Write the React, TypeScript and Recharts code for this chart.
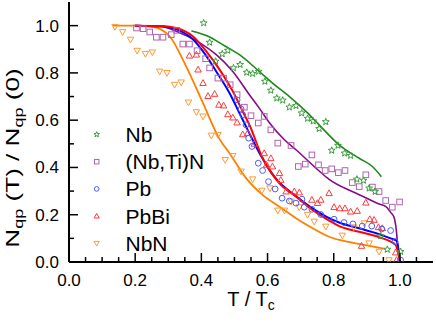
import React from 'react';
import {
  ComposedChart,
  Scatter,
  Line,
  XAxis,
  YAxis,
  Legend,
} from 'recharts';

const FONT = '"Liberation Sans", Arial, Helvetica, sans-serif';

// measured points (T/Tc, Nqp(T)/Nqp(0))
const nbX = [0.407, 0.425, 0.443, 0.463, 0.48, 0.497, 0.517, 0.537, 0.555, 0.573, 0.592, 0.61, 0.628, 0.646, 0.666, 0.686, 0.703, 0.721, 0.738, 0.756, 0.776, 0.794, 0.813, 0.833, 0.851, 0.87, 0.89, 0.907, 0.925, 0.942, 0.962, 1.002];
const nbY = [1.011, 0.929, 0.849, 0.88, 0.895, 0.821, 0.835, 0.802, 0.797, 0.806, 0.764, 0.726, 0.693, 0.684, 0.655, 0.661, 0.63, 0.607, 0.596, 0.564, 0.593, 0.472, 0.493, 0.46, 0.45, 0.35, 0.345, 0.312, 0.298, 0.11, 0.053, 0.044];

const nbtinX = [0.204, 0.224, 0.244, 0.264, 0.284, 0.309, 0.326, 0.344, 0.364, 0.387, 0.413, 0.425, 0.45, 0.467, 0.487, 0.508, 0.53, 0.55, 0.572, 0.59, 0.61, 0.631, 0.671, 0.693, 0.714, 0.734, 0.754, 0.774, 0.794, 0.814, 0.834, 0.856, 0.877, 0.897, 0.917, 0.937, 0.957, 0.977, 0.999];
const nbtinY = [0.99, 0.987, 0.973, 0.951, 0.951, 0.962, 0.98, 0.922, 0.922, 0.894, 0.86, 0.821, 0.778, 0.778, 0.75, 0.708, 0.655, 0.619, 0.588, 0.616, 0.559, 0.503, 0.493, 0.404, 0.414, 0.453, 0.411, 0.387, 0.394, 0.378, 0.387, 0.336, 0.319, 0.369, 0.317, 0.298, 0.26, 0.232, 0.254];

const pbX = [0.508, 0.52, 0.525, 0.535, 0.543, 0.553, 0.572, 0.585, 0.603, 0.623, 0.644, 0.666, 0.686, 0.704, 0.711, 0.734, 0.761, 0.801, 0.831, 0.858, 0.886, 0.915, 0.945, 0.972, 0.985, 1.002];
const pbY = [0.686, 0.647, 0.623, 0.58, 0.524, 0.489, 0.418, 0.387, 0.34, 0.309, 0.27, 0.258, 0.249, 0.266, 0.232, 0.223, 0.201, 0.181, 0.167, 0.161, 0.152, 0.152, 0.14, 0.133, 0.086, 0.008];

const pbbiX = [0.364, 0.385, 0.39, 0.405, 0.42, 0.44, 0.453, 0.467, 0.48, 0.495, 0.508, 0.525, 0.54, 0.56, 0.59, 0.597, 0.61, 0.615, 0.636, 0.64, 0.656, 0.681, 0.696, 0.734, 0.751, 0.761, 0.786, 0.801, 0.818, 0.834, 0.851, 0.871, 0.884, 0.897, 0.909, 0.922, 0.935, 0.947, 0.987, 0.99];
const pbbiY = [0.873, 0.877, 0.814, 0.757, 0.702, 0.711, 0.665, 0.662, 0.625, 0.611, 0.59, 0.54, 0.545, 0.5, 0.46, 0.411, 0.439, 0.404, 0.376, 0.347, 0.298, 0.298, 0.294, 0.263, 0.249, 0.263, 0.291, 0.232, 0.227, 0.227, 0.213, 0.216, 0.068, 0.251, 0.181, 0.178, 0.147, 0.143, 0.04, 0.008];

const nbnX = [0.139, 0.162, 0.186, 0.206, 0.231, 0.252, 0.274, 0.296, 0.319, 0.339, 0.361, 0.385, 0.405, 0.43, 0.45, 0.472, 0.495, 0.52, 0.555, 0.583, 0.607, 0.631, 0.651, 0.671, 0.696, 0.721, 0.741, 0.776, 0.826, 0.861, 0.892, 0.907, 0.937, 0.967];
const nbnY = [0.995, 0.973, 0.941, 0.894, 0.881, 0.887, 0.806, 0.8, 0.75, 0.76, 0.675, 0.634, 0.616, 0.535, 0.538, 0.432, 0.449, 0.383, 0.35, 0.302, 0.312, 0.218, 0.218, 0.256, 0.232, 0.2, 0.171, 0.15, 0.112, 0.147, 0.164, 0.079, 0.044, 0.008];

// model curves
const nbFitX = [0.37, 0.42, 0.47, 0.515, 0.575, 0.615, 0.666, 0.72, 0.756, 0.816, 0.877, 0.917, 0.944];
const nbFitY = [0.977, 0.955, 0.915, 0.877, 0.806, 0.757, 0.7, 0.632, 0.58, 0.496, 0.439, 0.404, 0.361];

const nbtinFitX = [0.2, 0.28, 0.324, 0.395, 0.445, 0.495, 0.545, 0.575, 0.605, 0.651, 0.686, 0.756, 0.786, 0.856, 0.9, 0.937, 0.957, 0.972, 0.982, 0.989, 0.995, 0.999];
const nbtinFitY = [1.0, 0.995, 0.976, 0.927, 0.877, 0.806, 0.708, 0.651, 0.59, 0.517, 0.475, 0.385, 0.35, 0.298, 0.27, 0.245, 0.235, 0.21, 0.19, 0.136, 0.045, 0.0];

const pbFitX = [0.2, 0.28, 0.364, 0.405, 0.445, 0.485, 0.515, 0.54, 0.58, 0.63, 0.68, 0.73, 0.78, 0.82, 0.877, 0.937, 0.972, 0.99, 0.996, 1.0];
const pbFitY = [1.0, 0.997, 0.955, 0.891, 0.806, 0.715, 0.63, 0.559, 0.45, 0.345, 0.285, 0.232, 0.19, 0.165, 0.143, 0.118, 0.1, 0.09, 0.05, 0.0];

const pbbiFitX = [0.2, 0.28, 0.324, 0.374, 0.415, 0.455, 0.495, 0.525, 0.545, 0.585, 0.636, 0.686, 0.736, 0.786, 0.816, 0.877, 0.937, 0.972, 0.987, 0.995, 1.0];
const pbbiFitY = [1.0, 0.998, 0.99, 0.955, 0.891, 0.814, 0.722, 0.637, 0.581, 0.44, 0.333, 0.277, 0.22, 0.175, 0.152, 0.128, 0.105, 0.086, 0.072, 0.037, 0.0];

const nbnFitX = [0.133, 0.2, 0.253, 0.304, 0.354, 0.405, 0.455, 0.485, 0.535, 0.585, 0.636, 0.686, 0.736, 0.786, 0.856, 0.9, 0.955];
const nbnFitY = [1.0, 1.0, 0.995, 0.955, 0.828, 0.672, 0.52, 0.46, 0.355, 0.284, 0.234, 0.185, 0.143, 0.107, 0.082, 0.07, 0.056];

const xTicks = [0, 0.05, 0.1, 0.15, 0.2, 0.25, 0.3, 0.35, 0.4, 0.45, 0.5, 0.55, 0.6, 0.65, 0.7, 0.75, 0.8, 0.85, 0.9, 0.95, 1.0, 1.05];
const yTicks = [0, 0.1, 0.2, 0.3, 0.4, 0.5, 0.6, 0.7, 0.8, 0.9, 1.0];
const legendNames = ['Nb', '(Nb,Ti)N', 'Pb', 'PbBi', 'NbN'];

const zip = (xs: number[], ys: number[]) => xs.map((x, i) => ({ x, y: ys[i] }));

const COLORS = {
  nb: { line: '#1b8a1b', mark: '#3a9e3a' },
  nbtin: { line: '#870a87', mark: '#b064b0' },
  pb: { line: '#0000ff', mark: '#4a5cff' },
  pbbi: { line: '#ff0000', mark: '#ff3b3b' },
  nbn: { line: '#ff7f00', mark: '#ff9a33' },
};

const isMajor = (v: number) => Math.abs(v * 5 - Math.round(v * 5)) < 1e-6;

// marker shapes
const starPath = (cx: number, cy: number, R: number) => {
  let d = '';
  for (let i = 0; i < 10; i++) {
    const a = -Math.PI / 2 + (i * Math.PI) / 5;
    const r = i % 2 ? R * 0.42 : R;
    d += `${i ? 'L' : 'M'}${cx + r * Math.cos(a)},${cy + r * Math.sin(a)}`;
  }
  return d + 'Z';
};

const marker = (kind: string, cx: number, cy: number, s = 1) => {
  switch (kind) {
    case 'star':
      return <path d={starPath(cx, cy, 3.6 * s)} fill="none" stroke={COLORS.nb.mark} strokeWidth={1} />;
    case 'square':
      return <rect x={cx - 2.8 * s} y={cy - 2.8 * s} width={5.6 * s} height={5.6 * s} fill="none" stroke={COLORS.nbtin.mark} strokeWidth={1} />;
    case 'circle':
      return <circle cx={cx} cy={cy} r={2.9 * s} fill="none" stroke={COLORS.pb.mark} strokeWidth={1} />;
    case 'up':
      return <path d={`M${cx},${cy - 3.4 * s}L${cx + 3.2 * s},${cy + 2.4 * s}L${cx - 3.2 * s},${cy + 2.4 * s}Z`} fill="none" stroke={COLORS.pbbi.mark} strokeWidth={1} />;
    default:
      return <path d={`M${cx},${cy + 3.4 * s}L${cx + 3.2 * s},${cy - 2.4 * s}L${cx - 3.2 * s},${cy - 2.4 * s}Z`} fill="none" stroke={COLORS.nbn.mark} strokeWidth={1} />;
  }
};

const shapeOf = (kind: string) => (p: any) => marker(kind, p.cx, p.cy);
const legendKinds = ['star', 'square', 'circle', 'up', 'down'];

// inward ticks
const BottomTick = ({ x, y, payload }: any) => {
  const major = isMajor(payload.value);
  return (
    <g>
      <line x1={x} x2={x} y1={y} y2={y - (major ? 9 : 5)} stroke="#000" strokeWidth={1.5} />
      {major && (
        <text x={x} y={y + 24} textAnchor="middle" fontSize={17} fontFamily={FONT} fill="#000">
          {payload.value.toFixed(1)}
        </text>
      )}
    </g>
  );
};

const TopTick = ({ x, y, payload }: any) => (
  <line x1={x} x2={x} y1={y} y2={y + (isMajor(payload.value) ? 9 : 5)} stroke="#000" strokeWidth={1.5} />
);

const LeftTick = ({ x, y, payload }: any) => {
  const major = isMajor(payload.value);
  return (
    <g>
      <line x1={x} x2={x + (major ? 9 : 5)} y1={y} y2={y} stroke="#000" strokeWidth={1.5} />
      {major && (
        <text x={x - 10} y={y} dy="0.355em" textAnchor="end" fontSize={17} fontFamily={FONT} fill="#000">
          {payload.value.toFixed(1)}
        </text>
      )}
    </g>
  );
};

const RightTick = ({ x, y, payload }: any) => (
  <line x1={x} x2={x - (isMajor(payload.value) ? 9 : 5)} y1={y} y2={y} stroke="#000" strokeWidth={1.5} />
);

const XTitle = () => (
  <text x={251} y={306} textAnchor="middle" fontSize={20} fontFamily={FONT} fill="#000">
    T / T<tspan dy={4} fontSize={14}>c</tspan>
  </text>
);

const YTitle = () => (
  <text
    transform="translate(19,158) rotate(-90) scale(1.45,1)"
    textAnchor="middle"
    fontSize={18}
    fontFamily={FONT}
    fill="#000"
  >
    N<tspan dy={4} fontSize={12.5}>qp</tspan>
    <tspan dy={-4}> (T) / N</tspan>
    <tspan dy={4} fontSize={12.5}>qp</tspan>
    <tspan dy={-4}> (0)</tspan>
  </text>
);

const LegendBox = () => (
  <svg width={140} height={140} style={{ display: 'block' }}>
    {legendNames.map((name, i) => {
      const cy = 13.5 + i * 27.2;
      return (
        <g key={name}>
          {marker(legendKinds[i], 8.7, cy, 0.8)}
          <text x={37.5} y={cy + 7.5} fontSize={21} fontFamily={FONT} fill="#000">
            {name}
          </text>
        </g>
      );
    })}
  </svg>
);

const axisLine = { stroke: '#000', strokeWidth: 2 };

export default function App() {
  return (
    <div style={{ position: 'absolute', left: 0, top: 0, width: 436, height: 331, background: '#fff' }}>
      <ComposedChart width={436} height={331} margin={{ top: 2, right: 3, bottom: 0, left: 0 }}>
        <XAxis
          xAxisId={0}
          type="number"
          dataKey="x"
          domain={[0, 1.1]}
          allowDataOverflow
          ticks={xTicks}
          interval={0}
          tickSize={0}
          tickMargin={0}
          tickLine={false}
          axisLine={axisLine}
          tick={<BottomTick />}
          height={69}
          label={<XTitle />}
        />
        <XAxis
          xAxisId="top"
          orientation="top"
          type="number"
          dataKey="x"
          domain={[0, 1.1]}
          allowDataOverflow
          ticks={xTicks}
          interval={0}
          tickSize={0}
          tickMargin={0}
          tickLine={false}
          axisLine={axisLine}
          tick={<TopTick />}
          height={0}
        />
        <YAxis
          yAxisId={0}
          type="number"
          dataKey="y"
          domain={[0, 1.1]}
          allowDataOverflow
          ticks={yTicks}
          interval={0}
          tickSize={0}
          tickMargin={0}
          tickLine={false}
          axisLine={axisLine}
          tick={<LeftTick />}
          width={69}
          label={<YTitle />}
        />
        <YAxis
          yAxisId="right"
          orientation="right"
          type="number"
          dataKey="y"
          domain={[0, 1.1]}
          allowDataOverflow
          ticks={yTicks}
          interval={0}
          tickSize={0}
          tickMargin={0}
          tickLine={false}
          axisLine={axisLine}
          tick={<RightTick />}
          width={0}
        />
        <Legend
          layout="vertical"
          align="center"
          verticalAlign="middle"
          wrapperStyle={{ left: 88, top: 121, width: 140, height: 140 }}
          content={() => <LegendBox />}
        />

        <Scatter name="NbN" data={zip(nbnX, nbnY)} shape={shapeOf('down')} isAnimationActive={false} />
        <Scatter name="PbBi" data={zip(pbbiX, pbbiY)} shape={shapeOf('up')} isAnimationActive={false} />
        <Scatter name="Pb" data={zip(pbX, pbY)} shape={shapeOf('circle')} isAnimationActive={false} />
        <Scatter name="(Nb,Ti)N" data={zip(nbtinX, nbtinY)} shape={shapeOf('square')} isAnimationActive={false} />
        <Scatter name="Nb" data={zip(nbX, nbY)} shape={shapeOf('star')} isAnimationActive={false} />

        <Line data={zip(nbnFitX, nbnFitY)} dataKey="y" type="monotone" dot={false} activeDot={false} stroke={COLORS.nbn.line} strokeWidth={1.8} isAnimationActive={false} legendType="none" />
        <Line data={zip(nbFitX, nbFitY)} dataKey="y" type="monotone" dot={false} activeDot={false} stroke={COLORS.nb.line} strokeWidth={1.6} isAnimationActive={false} legendType="none" />
        <Line data={zip(nbtinFitX, nbtinFitY)} dataKey="y" type="monotone" dot={false} activeDot={false} stroke={COLORS.nbtin.line} strokeWidth={1.6} isAnimationActive={false} legendType="none" />
        <Line data={zip(pbFitX, pbFitY)} dataKey="y" type="monotone" dot={false} activeDot={false} stroke={COLORS.pb.line} strokeWidth={2} isAnimationActive={false} legendType="none" />
        <Line data={zip(pbbiFitX, pbbiFitY)} dataKey="y" type="monotone" dot={false} activeDot={false} stroke={COLORS.pbbi.line} strokeWidth={2} isAnimationActive={false} legendType="none" />
      </ComposedChart>
    </div>
  );
}
